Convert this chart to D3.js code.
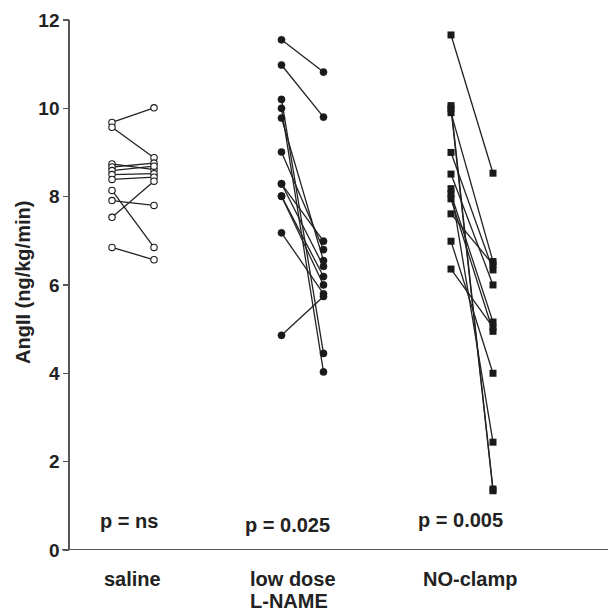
<!DOCTYPE html>
<html lang="en">
<head>
<meta charset="utf-8">
<title>AngII paired values</title>
<script src="https://cdn.jsdelivr.net/npm/d3@7"></script>
<style>
body { margin: 0; background: #fff; }
svg text { font-family: "Liberation Sans", Arial, sans-serif; font-weight: bold; fill: #222; }
.axis path, .axis line { stroke: #555; stroke-width: 1.3; shape-rendering: crispEdges; }
.pair { stroke: #222; stroke-width: 1.3; fill: none; }
</style>
</head>
<body>
<svg width="608" height="611"></svg>
<script>

var groups = ["saline", "low dose L-NAME", "NO-clamp"];
var pLabels = ["p = ns", "p = 0.025", "p = 0.005"];
var yTicks = [0, 2, 4, 6, 8, 10, 12];

// before / after per animal
var salineBefore = [9.67, 9.56, 8.73, 8.66, 8.58, 8.49, 8.38, 8.13, 7.90, 7.52, 6.84];
var salineAfter  = [10.0, 8.87, 8.60, 8.75, 8.68, 8.51, 8.43, 6.84, 7.79, 8.34, 6.56];

var lnameBefore = [11.54, 10.97, 10.19, 9.99, 9.77, 9.00, 8.28, 8.28, 8.00, 8.00, 7.17, 4.85];
var lnameAfter  = [10.81, 9.79, 4.44, 4.02, 6.54, 6.79, 6.98, 6.41, 6.18, 5.99, 5.79, 5.73];

var clampBefore = [11.65, 10.05, 9.98, 9.89, 8.99, 8.50, 8.17, 8.05, 7.94, 7.60, 6.98, 6.35];
var clampAfter  = [8.52, 1.37, 1.33, 6.52, 6.33, 5.99, 2.43, 5.15, 4.94, 6.45, 3.99, 5.03];

var svg = d3.select("svg");

var y = d3.scaleLinear().domain([0, 12]).range([549.5, 19.5]);
var x = d3.scalePoint().domain(groups).range([133, 472]);
var half = 21;

// y axis
svg.append("g")
    .attr("class", "axis")
    .attr("transform", "translate(68.5,0)")
    .call(d3.axisLeft(y).tickValues(yTicks).tickSize(6).tickSizeOuter(0).tickPadding(3))
    .call(function(g) {
      g.selectAll("text").style("font-size", "19px").attr("dy", "0.35em");
    });

// x axis baseline
svg.append("line")
    .attr("x1", 62).attr("x2", 608)
    .attr("y1", y(0)).attr("y2", y(0))
    .style("stroke", "#555").style("stroke-width", 1.3)
    .style("shape-rendering", "crispEdges");

svg.append("text")
    .attr("transform", "translate(30," + y(6.05) + ") rotate(-90)")
    .attr("text-anchor", "middle")
    .style("font-size", "20px")
    .text("AngII (ng/kg/min)");

function pairs(b, a) {
  return b.map(function(v, i) { return {pre: v, post: a[i]}; });
}

var data = [
  {group: groups[0], shape: "open", rows: pairs(salineBefore, salineAfter)},
  {group: groups[1], shape: "dot", rows: pairs(lnameBefore, lnameAfter)},
  {group: groups[2], shape: "square", rows: pairs(clampBefore, clampAfter)}
];

data.forEach(function(d) {
  var x0 = x(d.group) - half, x1 = x(d.group) + half;
  var g = svg.append("g");

  g.selectAll("line.pair").data(d.rows).enter().append("line")
      .attr("class", "pair")
      .attr("x1", x0).attr("y1", function(r) { return y(r.pre); })
      .attr("x2", x1).attr("y2", function(r) { return y(r.post); });

  var pts = [];
  d.rows.forEach(function(r) {
    pts.push({x: x0, v: r.pre});
    pts.push({x: x1, v: r.post});
  });

  if (d.shape === "square") {
    g.selectAll("rect").data(pts).enter().append("rect")
        .attr("x", function(p) { return p.x - 3.5; })
        .attr("y", function(p) { return y(p.v) - 3.5; })
        .attr("width", 7).attr("height", 7)
        .attr("fill", "#1a1a1a");
  } else {
    g.selectAll("circle").data(pts).enter().append("circle")
        .attr("cx", function(p) { return p.x; })
        .attr("cy", function(p) { return y(p.v); })
        .attr("r", d.shape === "open" ? 3.2 : 3.6)
        .attr("fill", d.shape === "open" ? "#fff" : "#1a1a1a")
        .attr("stroke", "#1a1a1a")
        .attr("stroke-width", d.shape === "open" ? 1.1 : 0.5);
  }
});

// p values
svg.selectAll("text.p").data(pLabels).enter().append("text")
    .attr("class", "p")
    .attr("x", function(d, i) { return [100, 245, 418][i]; })
    .attr("y", function(d, i) { return [528, 532, 527][i]; })
    .style("font-size", "20px")
    .text(function(d) { return d; });

// group labels
var catLines = [["saline"], ["low dose", "L-NAME"], ["NO-clamp"]];
svg.selectAll("text.cat").data(catLines).enter().append("text")
    .attr("class", "cat")
    .attr("x", function(d, i) { return [104, 250, 423][i]; })
    .attr("y", 586)
    .style("font-size", "20px")
    .each(function(d) {
      var t = d3.select(this), x0 = t.attr("x");
      d.forEach(function(s, k) {
        t.append("tspan").attr("x", x0).attr("dy", k ? 22 : 0).text(s);
      });
    });

</script>
</body>
</html>
